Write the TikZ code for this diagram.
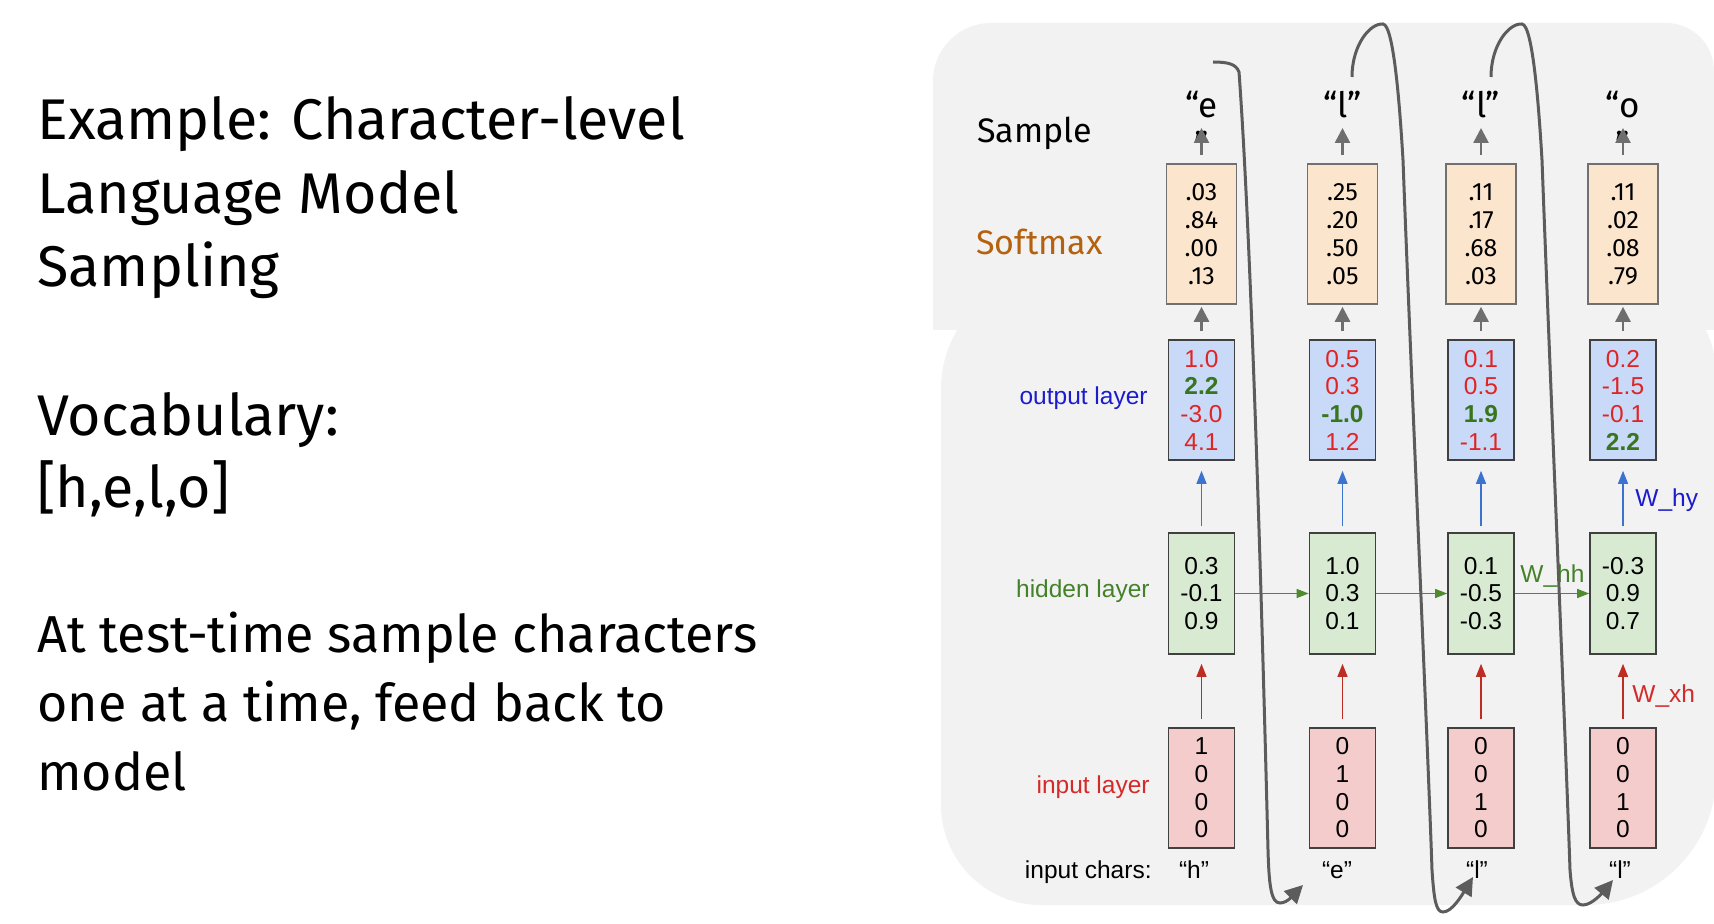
\documentclass[tikz,border=0pt]{standalone}
\usepackage{fontspec}
\setmainfont{Fira Sans}
\newfontfamily\arialfont{Liberation Sans}
\usetikzlibrary{arrows.meta}

\definecolor{panelgray}{HTML}{F2F2F2}
\definecolor{smfill}{HTML}{FCE5CD}
\definecolor{outfill}{HTML}{C9DAF8}
\definecolor{hidfill}{HTML}{D9EAD3}
\definecolor{inpfill}{HTML}{F4CCCC}
\definecolor{smborder}{HTML}{707070}
\definecolor{boxborder}{HTML}{404040}
\definecolor{numred}{HTML}{E02424}
\definecolor{numgreen}{HTML}{38761D}
\definecolor{labelblue}{HTML}{1C1CCC}
\definecolor{labelgreen}{HTML}{45812A}
\definecolor{labelred}{HTML}{D42A2A}
\definecolor{arrblue}{HTML}{3C72D0}
\definecolor{arrred}{HTML}{BE2D24}
\definecolor{arrgreen}{HTML}{4E8A2E}
\definecolor{arrgray}{HTML}{6E6E6E}
\definecolor{loopgray}{HTML}{5C5C5C}
\definecolor{softmaxbrown}{HTML}{B4620F}

\newcommand{\diagfont}{\arialfont\fontsize{12.25pt}{13.85pt}\selectfont}
\newcommand{\best}[1]{{\bfseries\color{numgreen}#1}}

\tikzset{
  layerbox/.style={draw=boxborder, line width=0.8pt, minimum width=33pt,
    minimum height=60pt, inner sep=0pt, align=center, font=\diagfont},
  smbox/.style={draw=smborder, fill=smfill, line width=0.8pt, minimum width=35pt,
    minimum height=70pt, inner sep=0pt, align=center,
    font=\fontsize{12.5pt}{14pt}\selectfont},
  outbox/.style={layerbox, fill=outfill, text=numred},
  hidbox/.style={layerbox, fill=hidfill, text=black, minimum height=60.5pt},
  inpbox/.style={layerbox, fill=inpfill, text=black},
  diaglabel/.style={inner sep=0pt, font=\diagfont},
  bigtext/.style={inner sep=0pt, anchor=base west, align=left},
  toplabel/.style={inner sep=0pt, anchor=base, align=center,
    font=\fontsize{17.5pt}{20pt}\selectfont},
  garrow/.style={draw=arrgray, line width=1.3pt, -{Triangle[length=7.5pt,width=7.5pt]}},
  barrow/.style={draw=arrblue, line width=0.6pt, -{Triangle[length=6.5pt,width=5pt]}},
  rarrow/.style={draw=arrred, line width=0.6pt, -{Triangle[length=6.5pt,width=5pt]}},
  harrow/.style={draw=arrgreen, line width=0.6pt, -{Triangle[length=6pt,width=4.5pt]}},
  feedback/.style={draw=loopgray, line width=1.5pt, -{Triangle[length=9pt,width=9pt]}},
}

\begin{document}
\begin{tikzpicture}[x=0.5pt, y=-0.5pt]
\useasboundingbox (0,0) rectangle (1714,924);
\fill[white] (0,0) rectangle (1714,924);

% grey panels behind the network
\fill[panelgray] (1056,274) -- (1616,274)
  .. controls (1671.2,274) and (1716,318.8) .. (1716,374)
  -- (1716,775) .. controls (1716,846.8) and (1657.8,905) .. (1586,905)
  -- (1041,905) .. controls (985.8,905) and (941,860.2) .. (941,805)
  -- (941,389) .. controls (941,325.5) and (992.5,274) .. (1056,274) -- cycle;
\fill[panelgray] (933,330) -- (933,81)
  .. controls (933,49) and (959,23) .. (991,23)
  -- (1666,23) .. controls (1692.5,23) and (1714,44.5) .. (1714,71)
  -- (1714,330) -- cycle;

% slide text (each node is anchored at the baseline of its last line)
\node[bigtext, font=\fontsize{28.7pt}{36.75pt}\selectfont] (title) at (37,287)
  {Example: Character-level\\Language Model\\Sampling};
\node[bigtext, font=\fontsize{28.7pt}{36pt}\selectfont] (vocab) at (37,508)
  {Vocabulary:\\{[h,e,l,o]}};
\node[bigtext, font=\fontsize{26pt}{34.75pt}\selectfont] (note) at (37,791)
  {At test-time sample characters\\one at a time, feed back to\\model};

% row labels
\node[inner sep=0pt, anchor=base west, font=\fontsize{17pt}{20pt}\selectfont] (samplelab) at (977,143) {Sample};
\node[inner sep=0pt, anchor=base west, font=\fontsize{17pt}{20pt}\selectfont, text=softmaxbrown] (softlab) at (976,255) {Softmax};
\node[diaglabel, anchor=base east, text=labelblue] (outlab) at (1148,405) {output layer};
\node[diaglabel, anchor=base east, text=labelgreen] (hidlab) at (1150,598) {hidden layer};
\node[diaglabel, anchor=base east, text=labelred] (inplab) at (1150,793) {input layer};
\node[diaglabel, anchor=base east] (charlab) at (1152,878) {input chars:};

% sampled characters
\node[toplabel] (s1) at (1201.5,158) {“e\\”};
\node[toplabel] (s2) at (1342.5,118) {“l”};
\node[toplabel] (s3) at (1481,118) {“l”};
\node[toplabel] (s4) at (1623,158) {“o\\”};

% input characters
\node[diaglabel, anchor=base] (ch1) at (1194,878) {“h”};
\node[diaglabel, anchor=base] (ch2) at (1337,878) {“e”};
\node[diaglabel, anchor=base] (ch3) at (1477,878) {“l”};
\node[diaglabel, anchor=base] (ch4) at (1620,878) {“l”};

% softmax probabilities
\node[smbox] (sm1) at (1201.5,234) {.03\\.84\\.00\\.13};
\node[smbox] (sm2) at (1342.5,234) {.25\\.20\\.50\\.05};
\node[smbox] (sm3) at (1481,234) {.11\\.17\\.68\\.03};
\node[smbox] (sm4) at (1623,234) {.11\\.02\\.08\\.79};

% output layer
\node[outbox] (o1) at (1201.5,400) {1.0\\\best{2.2}\\-3.0\\4.1};
\node[outbox] (o2) at (1342.5,400) {0.5\\0.3\\\best{-1.0}\\1.2};
\node[outbox] (o3) at (1481,400) {0.1\\0.5\\\best{1.9}\\-1.1};
\node[outbox] (o4) at (1623,400) {0.2\\-1.5\\-0.1\\\best{2.2}};

% hidden layer
\node[hidbox] (h1) at (1201.5,593.5) {0.3\\-0.1\\0.9};
\node[hidbox] (h2) at (1342.5,593.5) {1.0\\0.3\\0.1};
\node[hidbox] (h3) at (1481,593.5) {0.1\\-0.5\\-0.3};
\node[hidbox] (h4) at (1623,593.5) {-0.3\\0.9\\0.7};

% input layer (one-hot)
\node[inpbox] (in1) at (1201.5,788) {1\\0\\0\\0};
\node[inpbox] (in2) at (1342.5,788) {0\\1\\0\\0};
\node[inpbox] (in3) at (1481,788) {0\\0\\1\\0};
\node[inpbox] (in4) at (1623,788) {0\\0\\1\\0};

% weight labels
\node[diaglabel, anchor=base west, text=labelblue] (why) at (1635,507) {W\_hy};
\node[diaglabel, anchor=base west, text=labelgreen] (whh) at (1520,583) {W\_hh};
\node[diaglabel, anchor=base west, text=labelred] (wxh) at (1632,703) {W\_xh};

% arrow tips above the softmax boxes
\coordinate (t1) at (1201.5,128);
\coordinate (t2) at (1342.5,128);
\coordinate (t3) at (1481,128);
\coordinate (t4) at (1623,128);

\foreach \i in {1,2,3,4} {
  \draw[garrow, shorten <=4pt] (sm\i.north) -- (t\i);
  \draw[garrow, shorten <=4pt, shorten >=1pt] (o\i.north) -- (sm\i.south);
  \draw[barrow, shorten <=3pt, shorten >=5pt] (h\i.north) -- (o\i.south);
  \draw[rarrow, shorten <=4pt, shorten >=4.5pt] (in\i.north) -- (h\i.south);
}
\draw[harrow] (h1.east) -- (h2.west);
\draw[harrow] (h2.east) -- (h3.west);
\draw[harrow] (h3.east) -- (h4.west);

% sampled character fed back as the next input
\coordinate (f1a) at (1213,62);   \coordinate (f1b) at (1303,885);
\coordinate (f2a) at (1352,77);   \coordinate (f2b) at (1473,877);
\coordinate (f3a) at (1491,77);   \coordinate (f3b) at (1613,880);
\draw[feedback] (f1a) .. controls (1228,62) and (1236,64) .. (1239,72)
  .. controls (1252,250) and (1263,650) .. (1268,850)
  .. controls (1269,885) and (1271,903) .. (1280,903)
  .. controls (1288,903) and (1295,893) .. (f1b);
\draw[feedback] (f2a) .. controls (1352,45) and (1370,23) .. (1383,24)
  .. controls (1394,25) and (1400,110) .. (1403,160)
  .. controls (1410,350) and (1428,750) .. (1432,870)
  .. controls (1434,900) and (1436,912) .. (1443,912)
  .. controls (1452,912) and (1462,895) .. (f2b);
\draw[feedback] (f3a) .. controls (1491,45) and (1509,23) .. (1522,24)
  .. controls (1533,25) and (1539,110) .. (1542,160)
  .. controls (1549,350) and (1566,750) .. (1570,870)
  .. controls (1572,895) and (1575,905) .. (1583,905)
  .. controls (1592,905) and (1603,892) .. (f3b);
\end{tikzpicture}
\end{document}
